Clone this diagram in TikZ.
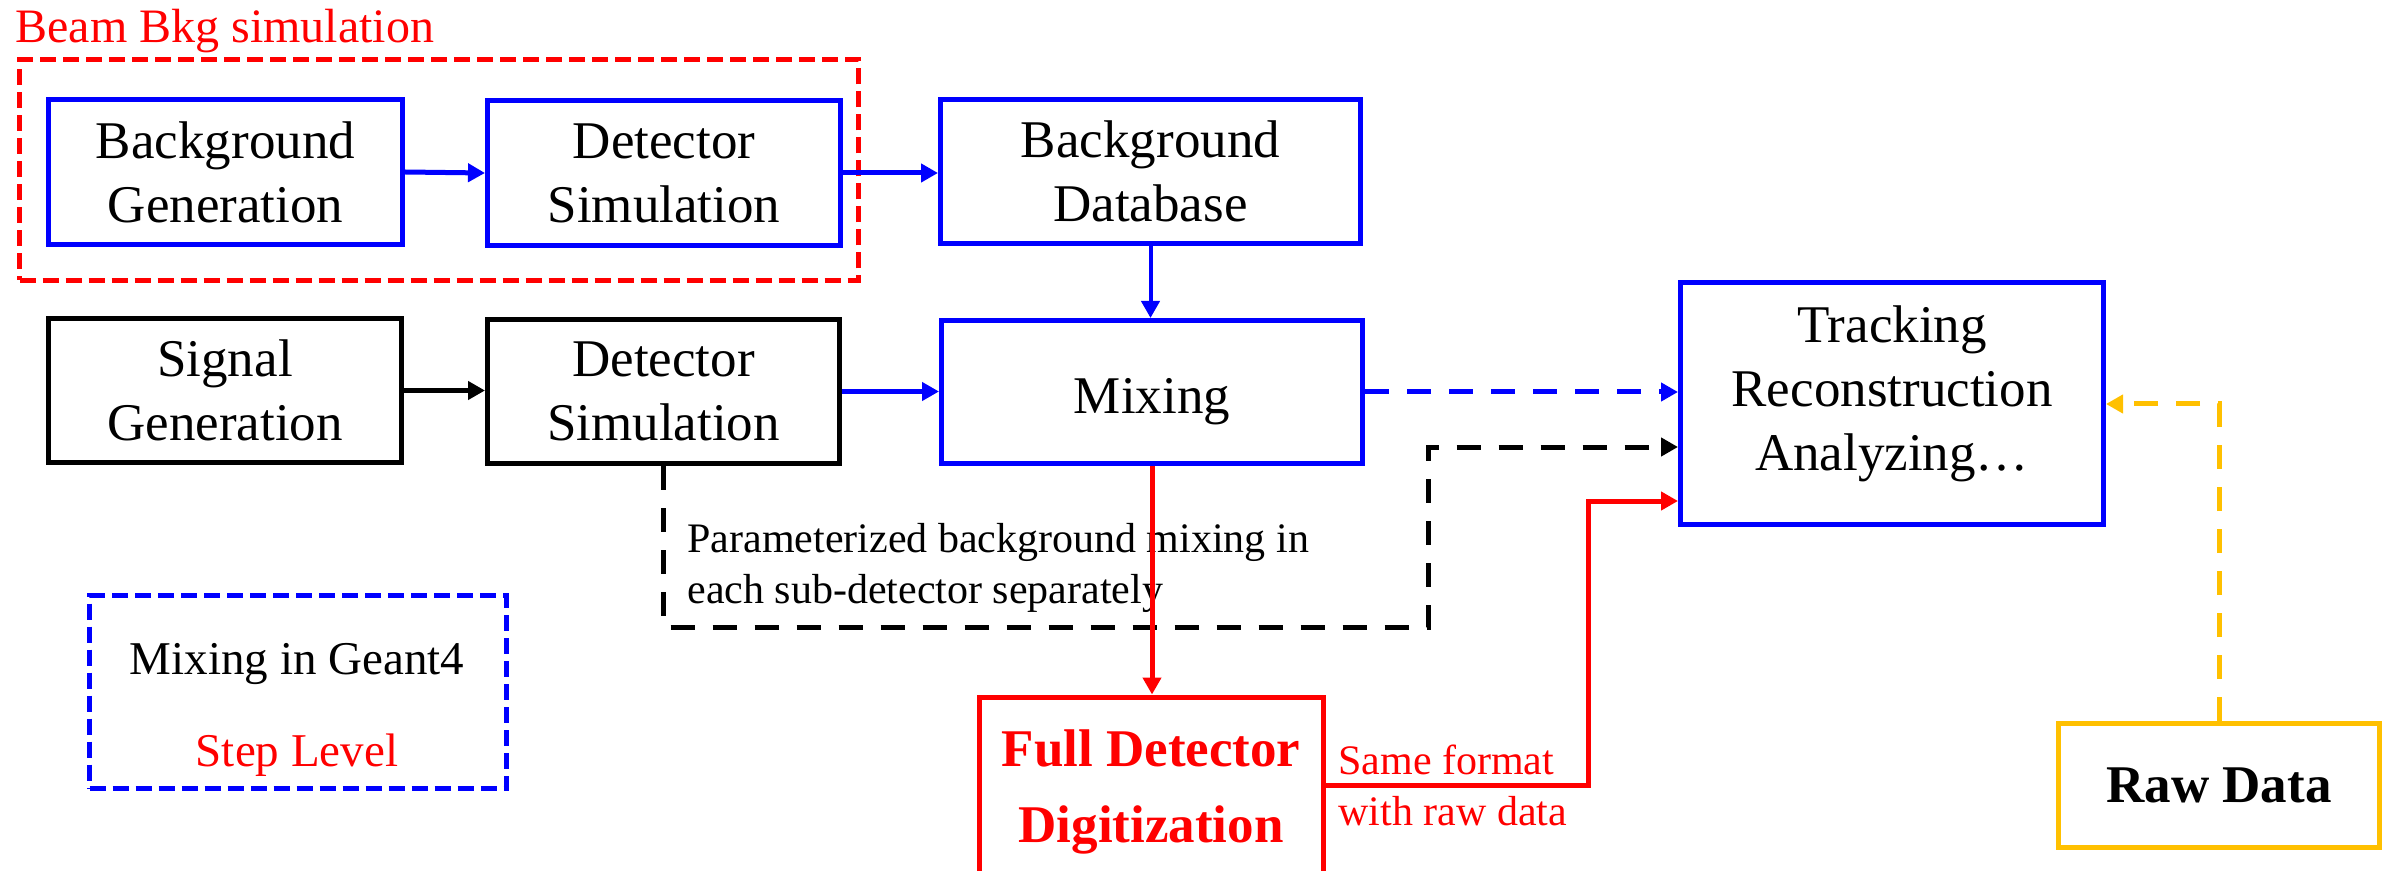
\documentclass[tikz,border=0pt]{standalone}
\usepackage{fontspec}
\setmainfont{Liberation Serif}
\usetikzlibrary{arrows.meta,calc}
\definecolor{cblue}{RGB}{0,0,255}
\definecolor{cred}{RGB}{255,0,0}
\definecolor{cyel}{RGB}{255,192,0}
\tikzset{
  boxtext/.style={font=\fontsize{26.5}{32}\selectfont, align=center},
  box/.style={draw, rectangle, line width=2.5pt, boxtext, inner sep=0pt},
  bluebox/.style={box, draw=cblue},
  blackbox/.style={box, draw=black},
  groupbox/.style={draw, rectangle, line width=2.5pt, dash pattern=on 8pt off 3.5pt, inner sep=0pt},
  smalltext/.style={font=\fontsize{21}{25.5}\selectfont, align=left, inner sep=0pt, anchor=north west},
  arr/.style={line width=2.5pt, -{Triangle[length=8.5pt,width=9pt]}},
  dasharr/.style={arr, dash pattern=on 12pt off 9pt},
}
\begin{document}
\begin{tikzpicture}[x=0.5pt,y=-0.5pt]
\useasboundingbox (0,0) rectangle (2392,871);
\clip (0,0) rectangle (2392,871);

% group boxes
\node[groupbox, draw=cred, minimum width=419.5pt, minimum height=110.5pt] (bkgbox) at (439,170) {};
\node[font=\fontsize{24}{28}\selectfont, text=cred, anchor=base west, inner sep=0pt] (bkglabel) at (15,43) {Beam Bkg simulation};

\node[groupbox, draw=cblue, minimum width=208.5pt, minimum height=96.5pt] (g4) at (298,692) {};
\node[font=\fontsize{23.5}{28}\selectfont, anchor=base, inner sep=0pt] (g4a) at (297,674) {Mixing in Geant4};
\node[font=\fontsize{23.5}{28}\selectfont, text=cred, anchor=base, inner sep=0pt] (g4b) at (297,766) {Step Level};

% main boxes
\node[bluebox, minimum width=177pt, minimum height=72.5pt] (bg) at (225.5,172) {Background\\Generation};
\node[bluebox, minimum width=176.5pt, minimum height=72.5pt] (ds1) at (664,173) {Detector\\Simulation};
\node[bluebox, minimum width=210pt, minimum height=72pt] (bd) at (1150.5,171.5) {Background\\Database};
\node[bluebox, minimum width=210.5pt, minimum height=71.5pt] (mix) at (1152,392) {\rule{0pt}{27pt}Mixing};
\node[blackbox, minimum width=176.5pt, minimum height=72pt] (sg) at (225,390.5) {Signal\\Generation};
\node[blackbox, minimum width=176pt, minimum height=72pt] (ds2) at (663.5,391.5) {Detector\\Simulation};
\node[bluebox, minimum width=211.5pt, minimum height=121pt] (trk) at (1892,403.5) {Tracking\\Reconstruction\\Analyzing…\rule[-15pt]{0pt}{15pt}};
\node[box, draw=cred, text=cred, font=\fontsize{26.5}{38}\selectfont\bfseries, minimum width=172pt, minimum height=95pt] (fd) at (1151,792) {Full Detector\\Digitization};
\node[box, draw=cyel, font=\fontsize{26.5}{32}\selectfont\bfseries, minimum width=160.5pt, minimum height=62pt] (raw) at (2219,785.5) {Raw Data};

% free texts
\node[smalltext] (param) at (687,523) {Parameterized background mixing in\\each sub-detector separately};
\node[smalltext, text=cred] (same) at (1338,745) {Same format\\with raw data};

% helper coordinates
\coordinate (kc) at (1428,627);
\coordinate (ky) at (0,447);
\coordinate (r1) at (1588,785);
\coordinate (ry) at (0,501);
\coordinate (yy) at (0,404);

% connectors
\draw[arr, cblue] (bg.east) -- (ds1.west);
\draw[arr, cblue] (ds1.east) -- (ds1.east -| bd.west);
\draw[arr, cblue, line width=2pt] (bd.south) -- (bd.south |- mix.north);
\draw[arr, black] (sg.east) -- (sg.east -| ds2.west);
\draw[arr, cblue] (ds2.east) -- (ds2.east -| mix.west);
\draw[dasharr, cblue] (mix.east) -- (mix.east -| trk.west);
\draw[dasharr, black] (ds2.south) |- (kc) |- (trk.west |- ky);
\draw[arr, cred] (mix.south) -- (mix.south |- fd.north);
\draw[arr, cred] (fd.east |- r1) -- (r1) |- (trk.west |- ry);
\draw[dasharr, cyel] (raw.north) |- (trk.east |- yy);
\end{tikzpicture}
\end{document}
